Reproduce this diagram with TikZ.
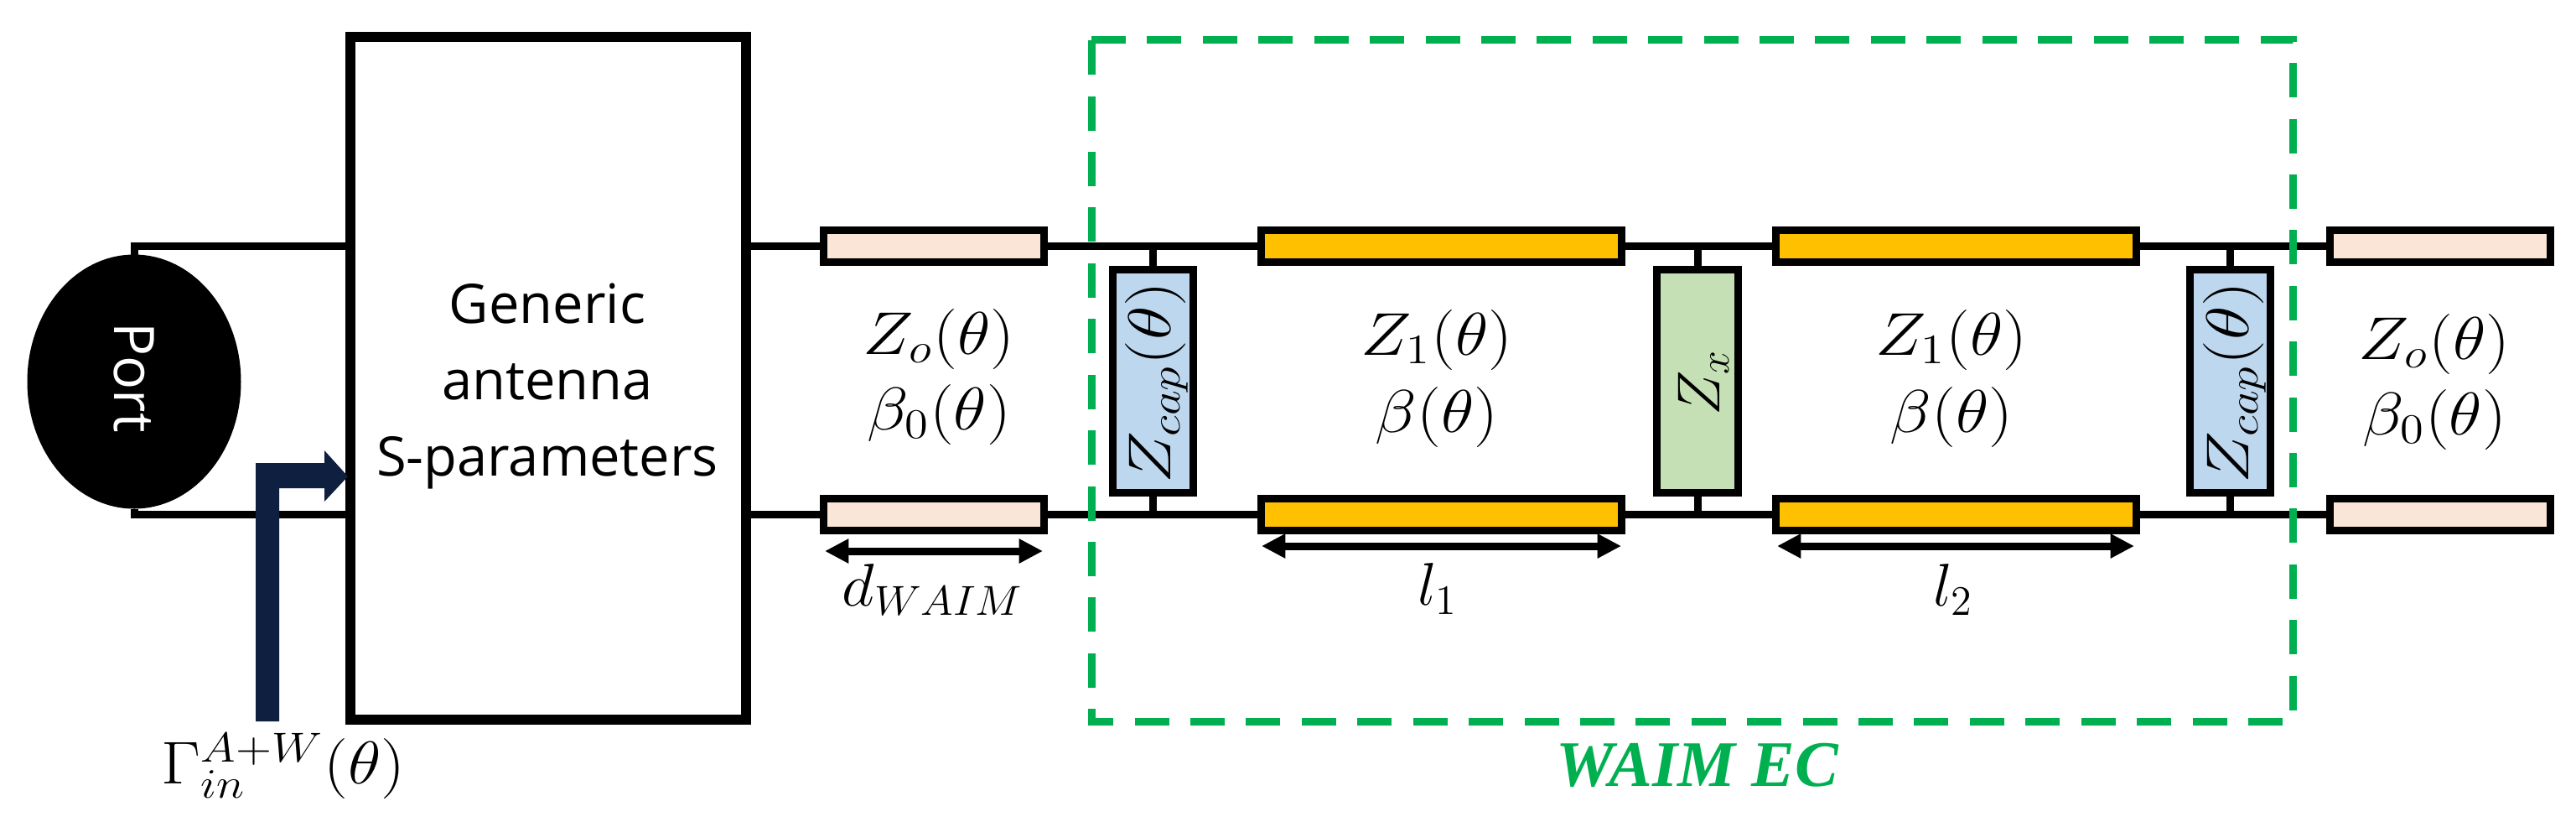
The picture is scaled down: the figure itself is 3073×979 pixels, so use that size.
\documentclass[tikz,border=0pt]{standalone}
\usepackage{fontspec}
\usetikzlibrary{arrows.meta,shapes.geometric}
\setmainfont{Open Sans}
\newfontfamily\ecfont{Liberation Serif}
\definecolor{peach}{HTML}{FBE5D6}
\definecolor{gold}{HTML}{FFC000}
\definecolor{skyb}{HTML}{BDD7EE}
\definecolor{leaf}{HTML}{C5E0B4}
\definecolor{navyb}{HTML}{0F1F3F}
\definecolor{ecgreen}{HTML}{00B050}
\newcommand{\wm}[1]{\scalebox{1.13}[1]{$#1$}}
\tikzset{
  wh/.style 2 args={minimum width=#1*0.24pt,minimum height=#2*0.24pt},
  part/.style={draw=black,line width=2.16pt,inner sep=0pt,outer sep=0pt,rectangle},
  peachpart/.style={part,fill=peach,wh={263}{38}},
  goldpart/.style={part,fill=gold,wh={430}{38}},
  cappart/.style={part,fill=skyb,wh={96}{266}},
  xpart/.style={part,fill=leaf,wh={97}{266}},
  wire/.style={draw=black,line width=2.16pt},
  dimline/.style={draw=black,line width=2.16pt,{Triangle[length=6.8pt,width=6.6pt]}-{Triangle[length=6.8pt,width=6.6pt]}},
  mlabel/.style={inner sep=0pt,outer sep=0pt,font=\LARGE},
  ecbox/.style={draw=ecgreen,line width=2.16pt,dash pattern=on 9.84pt off 6.1pt},
}
\begin{document}
\begin{tikzpicture}[x=0.24pt,y=-0.24pt]
\path[use as bounding box] (0,0) rectangle (3073,979);

% dashed enclosure corners
\coordinate (ectl) at (1302,47);
\coordinate (ectr) at (2735,47);
\coordinate (ecbr) at (2735,860);
\coordinate (ecbl) at (1302,860);

% parts
\node[ellipse,fill=black,inner sep=0pt,outer sep=0pt,wh={255}{303}] (port) at (160,455) {};
\node[rotate=-90,text=white,inner sep=0pt,font=\fontsize{16}{20}\selectfont] (porttext) at (160,450) {Port};
\node[part,line width=2.9pt,wh={472}{814}] (box) at (654,451) {};
\node[inner sep=0pt,font=\fontsize{15.6}{21.84}\selectfont,align=center] (boxtext) at (653,460) {Generic\\antenna\\S-parameters};

\node[peachpart] (p1) at (1114,293) {};
\node[peachpart] (p2) at (1114,613) {};
\node[goldpart] (g1) at (1719.5,293) {};
\node[goldpart] (g2) at (1719.5,613) {};
\node[goldpart] (g3) at (2333,293) {};
\node[goldpart] (g4) at (2333,613) {};
\node[peachpart] (p3) at (2910.5,293) {};
\node[peachpart] (p4) at (2910.5,613) {};
\node[cappart] (c1) at (1375,454.5) {};
\node[xpart] (zx) at (2025,454.5) {};
\node[cappart] (c2) at (2660.5,454.5) {};

% wires
\draw[wire] (port.north) |- (box.west |- p1.west);
\draw[wire] (port.south) |- (box.west |- p2.west);
\draw[wire] (box.east |- p1.west) -- (p1.west);
\draw[wire] (box.east |- p2.west) -- (p2.west);
\draw[wire] (p1.east) -- (g1.west);
\draw[wire] (p2.east) -- (g2.west);
\draw[wire] (g1.east) -- (g3.west);
\draw[wire] (g2.east) -- (g4.west);
\draw[wire] (g3.east) -- (p3.west);
\draw[wire] (g4.east) -- (p4.west);
\draw[wire] (c1.north) -- (c1.north |- g1.west);
\draw[wire] (c1.south) -- (c1.south |- g2.west);
\draw[wire] (zx.north) -- (zx.north |- g1.east);
\draw[wire] (zx.south) -- (zx.south |- g2.east);
\draw[wire] (c2.north) -- (c2.north |- g3.east);
\draw[wire] (c2.south) -- (c2.south |- g4.east);

% reflection arrow
\fill[navyb] (305,860) -- (305,552) -- (387,552) -- (387,537) -- (415,568) -- (387,598) -- (387,582) -- (333,582) -- (333,860) -- cycle;

% green enclosure
\draw[ecbox] (ectl) -- (ectr) -- (ecbr) -- (ecbl) -- cycle;
\node[inner sep=0pt,text=ecgreen,anchor=base,font=\ecfont\bfseries\itshape\fontsize{18.6}{22}\selectfont] (ectext) at (2025,937) {WAIM EC};

% dimension arrows
\coordinate (d1a) at (984,657);
\coordinate (d1b) at (1244,657);
\coordinate (d2a) at (1505,651);
\coordinate (d2b) at (1934,651);
\coordinate (d3a) at (2120,651);
\coordinate (d3b) at (2546,651);
\draw[dimline] (d1a) -- (d1b);
\draw[dimline] (d2a) -- (d2b);
\draw[dimline] (d3a) -- (d3b);

% labels
\node[mlabel] (gam) at (338,913) {\wm{\Gamma_{in}^{A+W}(\theta)}};
\node[mlabel] (zo1) at (1120,404) {\wm{Z_o(\theta)}};
\node[mlabel] (be1) at (1120,494) {\wm{\beta_0(\theta)}};
\node[mlabel] (dw) at (1113,703) {\scalebox{1.05}[1]{$d_{WAIM}$}};
\node[mlabel] (z11) at (1714,405) {\wm{Z_1(\theta)}};
\node[mlabel] (b11) at (1714,497) {\wm{\beta(\theta)}};
\node[mlabel] (l1t) at (1715,702) {$l_1$};
\node[mlabel] (z12) at (2328,405) {\wm{Z_1(\theta)}};
\node[mlabel] (b12) at (2328,497) {\wm{\beta(\theta)}};
\node[mlabel] (l2t) at (2330,703) {$l_2$};
\node[mlabel] (zo2) at (2904,410) {\wm{Z_o(\theta)}};
\node[mlabel] (be2) at (2904,500) {\wm{\beta_0(\theta)}};
\node[mlabel,rotate=90] (zc1) at (1380,456) {\scalebox{1.16}[1]{$Z_{cap}(\theta)$}};
\node[mlabel,rotate=90] (zxt) at (2032,456) {$Z_x$};
\node[mlabel,rotate=90] (zc2) at (2666,456) {\scalebox{1.16}[1]{$Z_{cap}(\theta)$}};
\end{tikzpicture}
\end{document}
